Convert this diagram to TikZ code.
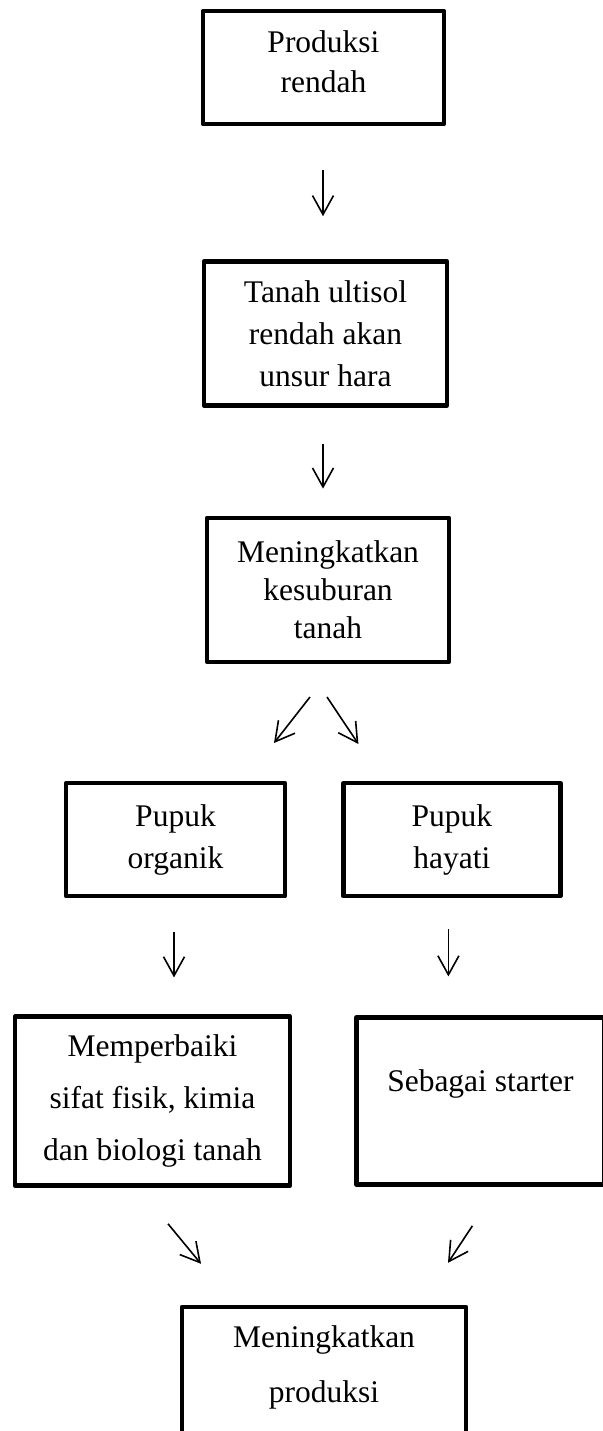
\documentclass[tikz,border=0pt]{standalone}
\usepackage{fontspec}
\setmainfont{Liberation Serif}
\usetikzlibrary{arrows.meta, positioning}

% empty space under the last line of a box
\newcommand{\padbelow}[1]{\rule[-#1]{0pt}{#1}}

\begin{document}
\begin{tikzpicture}[
    box/.style={
        draw,
        rectangle,
        line width=2.2pt,
        line join=round,
        align=center,
        inner sep=0pt,
        font=\fontsize{15.75pt}{21pt}\selectfont
    },
    arrow/.style={-{Straight Barb[length=9.5pt, width=10.5pt]}, line width=0.8pt}
]
\useasboundingbox (0,0) rectangle (301.5pt,-715.5pt);

% Main column
\node[box, minimum width=120.5pt, minimum height=56.5pt,
      font=\fontsize{15.75pt}{20pt}\selectfont] (prod) at (161.75pt,-33.75pt) {Produksi\\rendah\padbelow{6pt}};
\node[box, minimum width=121.5pt, minimum height=72pt, below=66.5pt of prod, xshift=1pt] (ultisol) {Tanah ultisol\\rendah akan\\unsur hara};
\node[box, minimum width=121pt, minimum height=72pt, below=54pt of ultisol, xshift=1.25pt,
      font=\fontsize{15.75pt}{19pt}\selectfont] (subur) {Meningkatkan\\kesuburan\\tanah};

% Two kinds of fertilizer
\node[box, minimum width=109.5pt, minimum height=56.5pt, below=58.5pt of subur, xshift=-76.25pt] (organik) {Pupuk\\organik};
\node[box, minimum width=108.5pt, minimum height=56.5pt, right=27pt of organik] (hayati) {Pupuk\\hayati};
\node[box, minimum width=137.5pt, minimum height=84.5pt, below=58pt of organik, xshift=-11.5pt,
      font=\fontsize{15.75pt}{26pt}\selectfont] (perbaiki) {Memperbaiki\\sifat fisik, kimia\\dan biologi tanah};
\node[box, minimum width=124pt, minimum height=83.5pt, right=31pt of perbaiki] (starter) {Sebagai starter\padbelow{21pt}};

% Result
\node[box, minimum width=142pt, minimum height=78pt, below=58.5pt of perbaiki, xshift=85.75pt,
      font=\fontsize{15.75pt}{27.5pt}\selectfont] (hasil) {Meningkatkan\\produksi\padbelow{21pt}};

% Arrows
\draw[arrow] ([xshift=-0.25pt, yshift=-22pt]prod.south) -- ([xshift=-1.25pt, yshift=21.5pt]ultisol.north);
\draw[arrow] ([xshift=-1.25pt, yshift=-18pt]ultisol.south) -- ([xshift=-2.5pt, yshift=13.5pt]subur.north);
\draw[arrow] ([xshift=-9pt, yshift=-16.5pt]subur.south) -- ([xshift=49.25pt, yshift=19pt]organik.north);
\draw[arrow] ([xshift=-0.5pt, yshift=-16.5pt]subur.south) -- ([xshift=-46.75pt, yshift=18.5pt]hayati.north);
\draw[arrow] ([xshift=-0.75pt, yshift=-17pt]organik.south) -- ([xshift=10.75pt, yshift=18.5pt]perbaiki.north);
\draw[arrow] ([xshift=-1.75pt, yshift=-15.5pt]hayati.south) -- ([xshift=-16pt, yshift=19.5pt]starter.north);
\draw[arrow] ([xshift=7.75pt, yshift=-18pt]perbaiki.south) -- ([xshift=-61.5pt, yshift=20.5pt]hasil.north);
\draw[arrow] ([xshift=-4pt, yshift=-19.5pt]starter.south) -- ([xshift=62pt, yshift=21pt]hasil.north);

\end{tikzpicture}
\end{document}
